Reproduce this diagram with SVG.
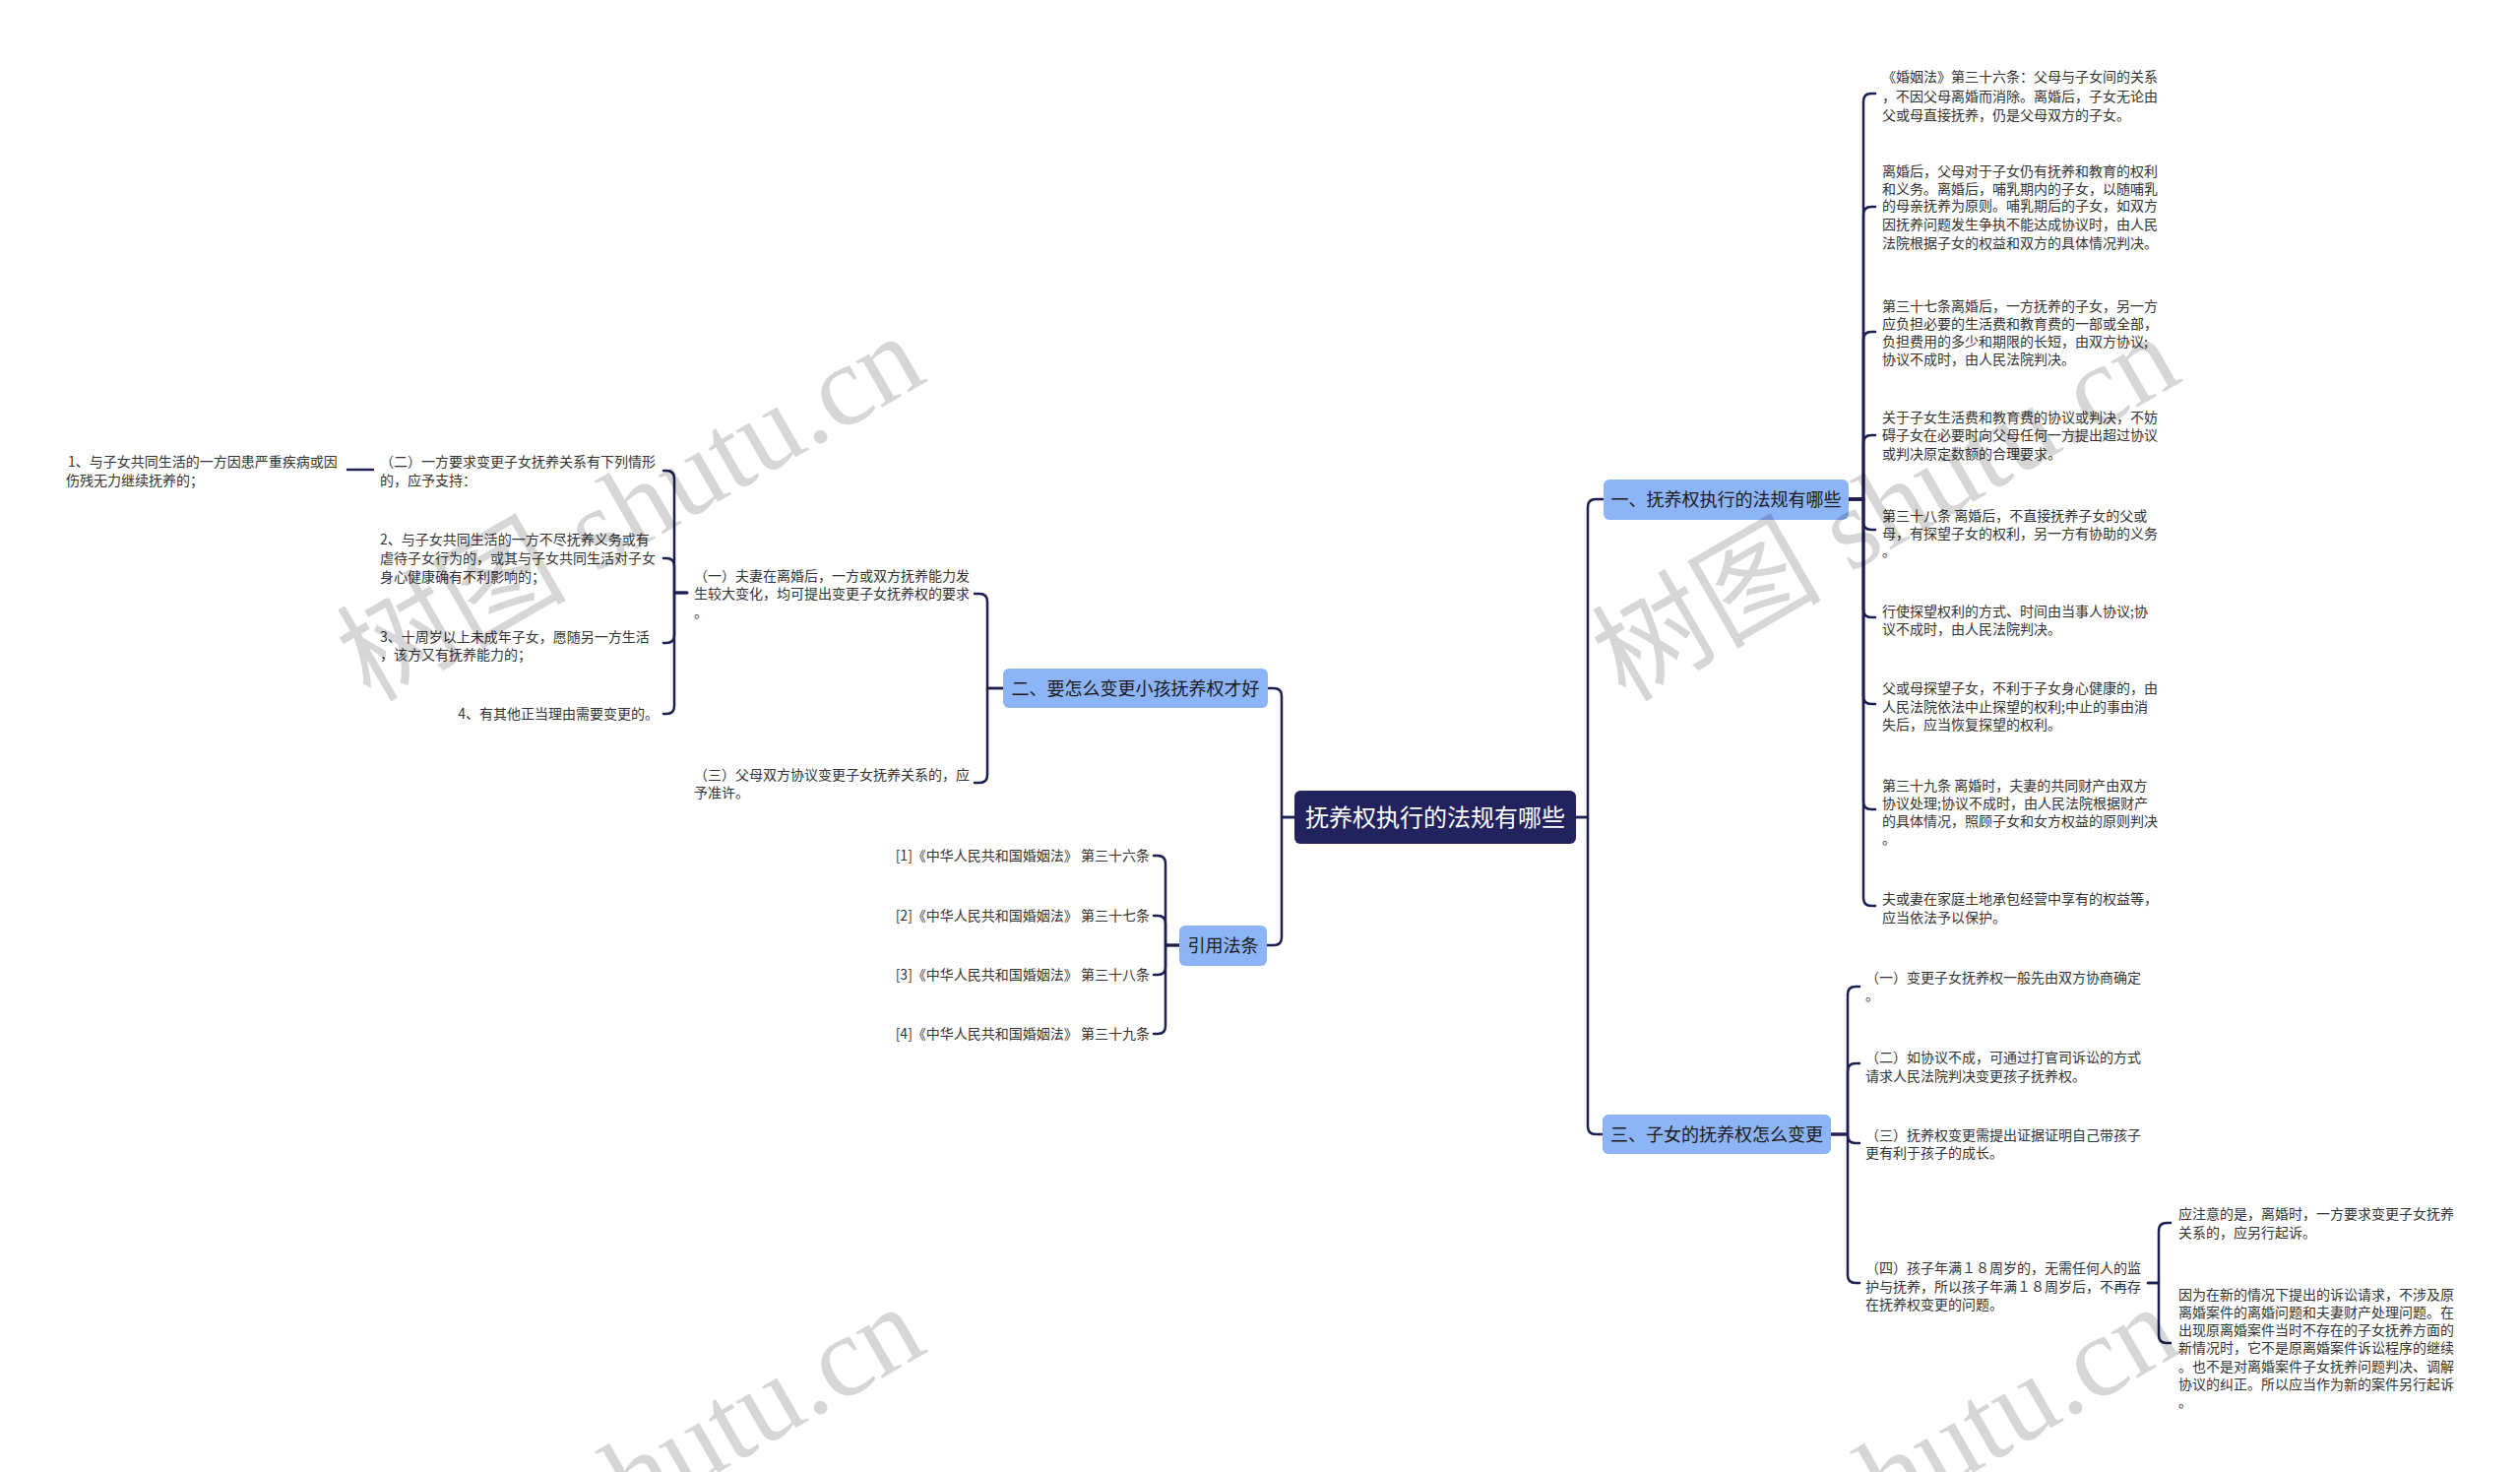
<svg xmlns="http://www.w3.org/2000/svg" width="2560" height="1495" viewBox="0 0 2560 1495">
<style>
.t{font-family:"Noto Sans CJK SC","Noto Sans",sans-serif;font-size:14px;fill:#333}
.e{text-anchor:end}
.c{fill:none;stroke:#1c1f4f;stroke-width:2.5;stroke-linecap:round;stroke-linejoin:round}
.b{fill:#8db4f6}
.bt{font-family:"Noto Sans CJK SC","Noto Sans",sans-serif;font-size:18px;fill:#1a1a1a;text-anchor:middle}
.rt{font-family:"Noto Sans CJK SC","Noto Sans",sans-serif;font-size:24px;fill:#fff;text-anchor:middle}
.wm{font-family:"Liberation Serif","Noto Sans CJK SC",serif;font-size:117px;fill:#000;fill-opacity:0.16}
</style>
<rect width="2560" height="1495" fill="#fff"/>
<g id="connectors">
<path class="c" d="M1601 830 H1613 V515 Q1613 507 1621 507 H1629"/>
<path class="c" d="M1601 830 H1613 V1144 Q1613 1152 1621 1152 H1628"/>
<path class="c" d="M1315 830 H1302 V707 Q1302 699 1294 699 H1288"/>
<path class="c" d="M1315 830 H1302 V952 Q1302 960 1294 960 H1287"/>
<path class="c" d="M1878 507 H1893 V103 Q1893 95 1901 95 H1905"/>
<path class="c" d="M1878 507 H1893 V218 Q1893 210 1901 210 H1905"/>
<path class="c" d="M1878 507 H1893 V345 Q1893 337 1901 337 H1905"/>
<path class="c" d="M1878 507 H1893 V450 Q1893 442 1901 442 H1905"/>
<path class="c" d="M1878 507 H1893 V530 Q1893 538 1901 538 H1905"/>
<path class="c" d="M1878 507 H1893 V619 Q1893 627 1901 627 H1905"/>
<path class="c" d="M1878 507 H1893 V707 Q1893 715 1901 715 H1905"/>
<path class="c" d="M1878 507 H1893 V814 Q1893 822 1901 822 H1905"/>
<path class="c" d="M1878 507 H1893 V912 Q1893 920 1901 920 H1905"/>
<path class="c" d="M1860 1152 H1877 V1010 Q1877 1002 1885 1002 H1889"/>
<path class="c" d="M1860 1152 H1877 V1088 Q1877 1080 1885 1080 H1889"/>
<path class="c" d="M1860 1152 H1877 V1153 Q1877 1161 1885 1161 H1889"/>
<path class="c" d="M1860 1152 H1877 V1295 Q1877 1303 1885 1303 H1889"/>
<path class="c" d="M2182 1303 H2193 V1250 Q2193 1242 2201 1242 H2205"/>
<path class="c" d="M2182 1303 H2193 V1356 Q2193 1364 2201 1364 H2205"/>
<path class="c" d="M1019 699 H1003 V611 Q1003 603 995 603 H990"/>
<path class="c" d="M1019 699 H1003 V787 Q1003 795 995 795 H990"/>
<path class="c" d="M698 602 H685 V486 Q685 478 677 478 H674"/>
<path class="c" d="M698 602 H685 V575 Q685 567 677 567 H674"/>
<path class="c" d="M698 602 H685 V645 Q685 653 677 653 H674"/>
<path class="c" d="M698 602 H685 V717 Q685 725 677 725 H674"/>
<path class="c" d="M379 477 H353"/>
<path class="c" d="M1198 960 H1184 V877 Q1184 869 1176 869 H1172"/>
<path class="c" d="M1198 960 H1184 V938 Q1184 930 1176 930 H1172"/>
<path class="c" d="M1198 960 H1184 V982 Q1184 990 1176 990 H1172"/>
<path class="c" d="M1198 960 H1184 V1042 Q1184 1050 1176 1050 H1172"/>
</g>
<g id="root"><rect x="1315" y="803" width="286" height="54" rx="6" fill="#22235e"/><text class="rt" x="1458" y="839">抚养权执行的法规有哪些</text></g>
<g id="b1"><rect class="b" x="1629" y="487" width="249" height="41" rx="6"/><text class="bt" x="1753.5" y="514">一、抚养权执行的法规有哪些</text></g>
<g id="b2"><rect class="b" x="1019" y="679" width="269" height="40" rx="6"/><text class="bt" x="1153.5" y="706">二、要怎么变更小孩抚养权才好</text></g>
<g id="b3"><rect class="b" x="1628" y="1132" width="232" height="40" rx="6"/><text class="bt" x="1744" y="1159">三、子女的抚养权怎么变更</text></g>
<g id="b4"><rect class="b" x="1198" y="940" width="89" height="41" rx="6"/><text class="bt" x="1242.5" y="967">引用法条</text></g>
<g id="n1a"><text class="t"><tspan x="1912" y="83">《婚姻法》第三十六条：父母与子女间的关系</tspan><tspan x="1912" y="103">，不因父母离婚而消除。离婚后，子女无论由</tspan><tspan x="1912" y="122">父或母直接抚养，仍是父母双方的子女。</tspan></text></g>
<g id="n1b"><text class="t"><tspan x="1912" y="179">离婚后，父母对于子女仍有抚养和教育的权利</tspan><tspan x="1912" y="197">和义务。离婚后，哺乳期内的子女，以随哺乳</tspan><tspan x="1912" y="214">的母亲抚养为原则。哺乳期后的子女，如双方</tspan><tspan x="1912" y="233">因抚养问题发生争执不能达成协议时，由人民</tspan><tspan x="1912" y="252">法院根据子女的权益和双方的具体情况判决。</tspan></text></g>
<g id="n1c"><text class="t"><tspan x="1912" y="316">第三十七条离婚后，一方抚养的子女，另一方</tspan><tspan x="1912" y="334">应负担必要的生活费和教育费的一部或全部，</tspan><tspan x="1912" y="352">负担费用的多少和期限的长短，由双方协议;</tspan><tspan x="1912" y="370">协议不成时，由人民法院判决。</tspan></text></g>
<g id="n1d"><text class="t"><tspan x="1912" y="429">关于子女生活费和教育费的协议或判决，不妨</tspan><tspan x="1912" y="447">碍子女在必要时向父母任何一方提出超过协议</tspan><tspan x="1912" y="466">或判决原定数额的合理要求。</tspan></text></g>
<g id="n1e"><text class="t"><tspan x="1912" y="529">第三十八条 离婚后，不直接抚养子女的父或</tspan><tspan x="1912" y="547">母，有探望子女的权利，另一方有协助的义务</tspan><tspan x="1912" y="565">。</tspan></text></g>
<g id="n1f"><text class="t"><tspan x="1912" y="626">行使探望权利的方式、时间由当事人协议;协</tspan><tspan x="1912" y="644">议不成时，由人民法院判决。</tspan></text></g>
<g id="n1g"><text class="t"><tspan x="1912" y="704">父或母探望子女，不利于子女身心健康的，由</tspan><tspan x="1912" y="723">人民法院依法中止探望的权利;中止的事由消</tspan><tspan x="1912" y="741">失后，应当恢复探望的权利。</tspan></text></g>
<g id="n1h"><text class="t"><tspan x="1912" y="803">第三十九条 离婚时，夫妻的共同财产由双方</tspan><tspan x="1912" y="821">协议处理;协议不成时，由人民法院根据财产</tspan><tspan x="1912" y="839">的具体情况，照顾子女和女方权益的原则判决</tspan><tspan x="1912" y="857">。</tspan></text></g>
<g id="n1i"><text class="t"><tspan x="1912" y="918">夫或妻在家庭土地承包经营中享有的权益等，</tspan><tspan x="1912" y="937">应当依法予以保护。</tspan></text></g>
<g id="n3a"><text class="t"><tspan x="1895" y="998">（一）变更子女抚养权一般先由双方协商确定</tspan><tspan x="1895" y="1016">。</tspan></text></g>
<g id="n3b"><text class="t"><tspan x="1895" y="1079">（二）如协议不成，可通过打官司诉讼的方式</tspan><tspan x="1895" y="1098">请求人民法院判决变更孩子抚养权。</tspan></text></g>
<g id="n3c"><text class="t"><tspan x="1895" y="1158">（三）抚养权变更需提出证据证明自己带孩子</tspan><tspan x="1895" y="1176">更有利于孩子的成长。</tspan></text></g>
<g id="n3d"><text class="t"><tspan x="1895" y="1293">（四）孩子年满１８周岁的，无需任何人的监</tspan><tspan x="1895" y="1312">护与抚养，所以孩子年满１８周岁后，不再存</tspan><tspan x="1895" y="1330">在抚养权变更的问题。</tspan></text></g>
<g id="n3d1"><text class="t"><tspan x="2213" y="1238">应注意的是，离婚时，一方要求变更子女抚养</tspan><tspan x="2213" y="1257">关系的，应另行起诉。</tspan></text></g>
<g id="n3d2"><text class="t"><tspan x="2213" y="1320">因为在新的情况下提出的诉讼请求，不涉及原</tspan><tspan x="2213" y="1338">离婚案件的离婚问题和夫妻财产处理问题。在</tspan><tspan x="2213" y="1356">出现原离婚案件当时不存在的子女抚养方面的</tspan><tspan x="2213" y="1374">新情况时，它不是原离婚案件诉讼程序的继续</tspan><tspan x="2213" y="1393">。也不是对离婚案件子女抚养问题判决、调解</tspan><tspan x="2213" y="1411">协议的纠正。所以应当作为新的案件另行起诉</tspan><tspan x="2213" y="1429">。</tspan></text></g>
<g id="n2a"><text class="t"><tspan x="705" y="590">（一）夫妻在离婚后，一方或双方抚养能力发</tspan><tspan x="705" y="608">生较大变化，均可提出变更子女抚养权的要求</tspan><tspan x="705" y="627">。</tspan></text></g>
<g id="n2b"><text class="t"><tspan x="705" y="792">（三）父母双方协议变更子女抚养关系的，应</tspan><tspan x="705" y="810">予准许。</tspan></text></g>
<g id="n2a1"><text class="t"><tspan x="386" y="474">（二）一方要求变更子女抚养关系有下列情形</tspan><tspan x="386" y="493">的，应予支持：</tspan></text></g>
<g id="n2a1a"><text class="t"><tspan x="69" y="474">1、与子女共同生活的一方因患严重疾病或因</tspan><tspan x="67" y="493">伤残无力继续抚养的；</tspan></text></g>
<g id="n2a2"><text class="t"><tspan x="386" y="553">2、与子女共同生活的一方不尽抚养义务或有</tspan><tspan x="386" y="572">虐待子女行为的，或其与子女共同生活对子女</tspan><tspan x="386" y="591">身心健康确有不利影响的；</tspan></text></g>
<g id="n2a3"><text class="t"><tspan x="386" y="652">3、十周岁以上未成年子女，愿随另一方生活</tspan><tspan x="386" y="670">，该方又有抚养能力的；</tspan></text></g>
<g id="n2a4"><text class="t e" x="669" y="730">4、有其他正当理由需要变更的。</text></g>
<g id="r1"><text class="t e" x="1168" y="874">[1]《中华人民共和国婚姻法》 第三十六条</text></g>
<g id="r2"><text class="t e" x="1168" y="935">[2]《中华人民共和国婚姻法》 第三十七条</text></g>
<g id="r3"><text class="t e" x="1168" y="995">[3]《中华人民共和国婚姻法》 第三十八条</text></g>
<g id="r4"><text class="t e" x="1168" y="1055">[4]《中华人民共和国婚姻法》 第三十九条</text></g>
<g id="watermark">
<text class="wm" transform="translate(376,714) rotate(-30)">树图 shutu.cn</text>
<text class="wm" transform="translate(1651,714) rotate(-30)">树图 shutu.cn</text>
<text class="wm" transform="translate(376,1700) rotate(-30)">树图 shutu.cn</text>
<text class="wm" transform="translate(1651,1700) rotate(-30)">树图 shutu.cn</text>
</g>
</svg>
